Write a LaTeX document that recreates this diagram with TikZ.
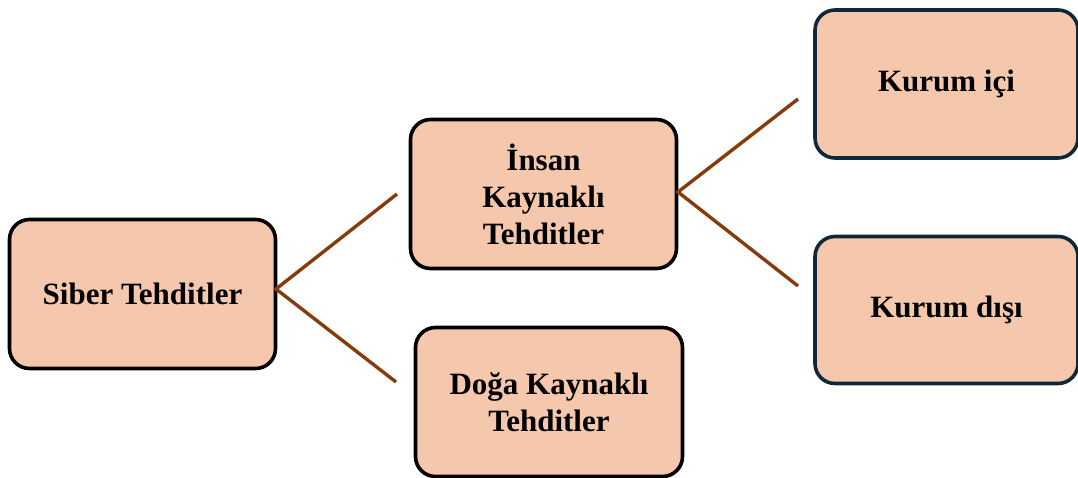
\documentclass[tikz,border=0pt]{standalone}
\usepackage{fontspec}
\setmainfont{Liberation Serif}
\definecolor{boxfill}{HTML}{F5C7AC}
\definecolor{linkbrown}{HTML}{843C0C}
\definecolor{navyedge}{HTML}{0F2838}
\begin{document}
\begin{tikzpicture}[x=1pt,y=-1pt,
  topic/.style={draw=black, line width=3.6pt, fill=boxfill, rounded corners=20pt,
    align=center, inner sep=0pt, font=\fontsize{31}{37}\selectfont\bfseries},
  leaf/.style={topic, draw=navyedge},
  link/.style={draw=linkbrown, line width=3.4pt}]
  \useasboundingbox (0,0) rectangle (1078,477);

  % boxes
  \node[topic, minimum width=266pt, minimum height=149pt] (siber) at (142.5,294) {Siber Tehditler};
  \node[topic, minimum width=266pt, minimum height=149pt] (insan) at (543.5,194) {İnsan\\Kaynaklı\\Tehditler};
  \node[topic, minimum width=267pt, minimum height=149pt] (doga) at (549,402) {Doğa Kaynaklı\\Tehditler};
  \node[leaf, minimum width=263pt, minimum height=148pt] (ici) at (946.5,84) {Kurum içi};
  \node[leaf, minimum width=263pt, minimum height=147pt] (disi) at (946.5,310) {Kurum dışı};

  % connector end points
  \coordinate (sroot) at (276,289);
  \coordinate (sup1) at (397,194);
  \coordinate (sdown1) at (396,382);
  \coordinate (iroot) at (678,192);
  \coordinate (iup1) at (798,99);
  \coordinate (idown1) at (798,286);

  % connectors
  \draw[link] (sup1) -- (sroot) -- (sdown1);
  \draw[link] (iup1) -- (iroot) -- (idown1);
\end{tikzpicture}
\end{document}
